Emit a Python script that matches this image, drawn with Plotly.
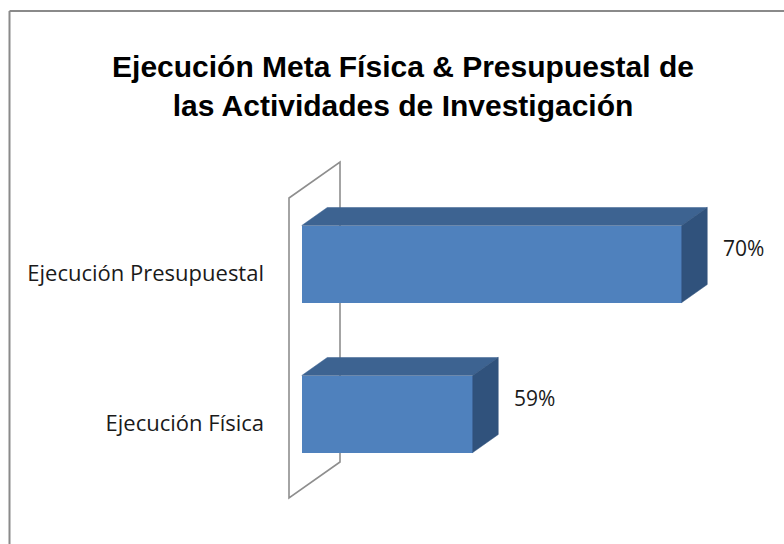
import plotly.graph_objects as go

# ---- data ----
categories = ["Ejecución Física", "Ejecución Presupuestal"]
values = [59, 70]
value_labels = ["59%", "70%"]
title_text = "Ejecución Meta Física & Presupuestal de<br>las Actividades de Investigación"

# ---- layout geometry (pixels) ----
W, H = 784, 544
PX_L, PX_R = 280, 775          # plot area x in pixels
PX_T, PX_B = 150, 505          # plot area y in pixels
AXIS_MIN = 50                  # value-axis minimum (%)
PX_PER_PCT = 19.0
PX_PER_CAT = 150.0
WALL_X = 289                   # pixel of AXIS_MIN at depth 0
CAT_BOTTOM_PX = 498            # pixel of category -0.5 at depth 0

x0 = AXIS_MIN - (WALL_X - PX_L) / PX_PER_PCT
x1 = AXIS_MIN + (PX_R - WALL_X) / PX_PER_PCT
y0 = -0.5 - (PX_B - CAT_BOTTOM_PX) / PX_PER_CAT
y1 = -0.5 + (CAT_BOTTOM_PX - PX_T) / PX_PER_CAT

# depth vector (full wall depth) in data units
DX = 51 / PX_PER_PCT
DY = 36 / PX_PER_CAT
D_FRONT, D_BACK = 0.25, 0.75
HALF = 77 / 2 / PX_PER_CAT

FRONT = "#4F81BD"
TOP = "#3D6391"
SIDE = "#30527C"
WALL_LINE = "#8E8E8E"

fig = go.Figure()
n = len(categories)

# side wall (drawn beneath all traces)
wx = [AXIS_MIN, AXIS_MIN, AXIS_MIN + DX, AXIS_MIN + DX]
wy = [-0.5, n - 0.5, n - 0.5 + DY, -0.5 + DY]
wall_path = "M " + " L ".join(f"{a},{b}" for a, b in zip(wx, wy)) + " Z"
fig.add_shape(type="path", path=wall_path, xref="x", yref="y", layer="below",
              fillcolor="white", line=dict(color=WALL_LINE, width=1.6))

fx = D_FRONT * DX
fy = D_FRONT * DY
bx = (D_BACK - D_FRONT) * DX
by = (D_BACK - D_FRONT) * DY

# front faces
fig.add_trace(go.Bar(
    y=[i + fy for i in range(n)],
    x=[v - AXIS_MIN for v in values],
    base=[AXIS_MIN + fx] * n,
    orientation="h", width=2 * HALF,
    marker=dict(color=FRONT, line=dict(width=0)),
    showlegend=False, hoverinfo="skip"))

for i, v in enumerate(values):
    yt = i + fy + HALF
    yb = i + fy - HALF
    xl = AXIS_MIN + fx
    xr = v + fx
    # top face
    fig.add_trace(go.Scatter(
        x=[xl, xr, xr + bx, xl + bx, xl],
        y=[yt, yt, yt + by, yt + by, yt],
        mode="lines", fill="toself", fillcolor=TOP,
        line=dict(color=TOP, width=0.5), hoverinfo="skip", showlegend=False))
    # side face
    fig.add_trace(go.Scatter(
        x=[xr, xr + bx, xr + bx, xr, xr],
        y=[yt, yt + by, yb + by, yb, yt],
        mode="lines", fill="toself", fillcolor=SIDE,
        line=dict(color=SIDE, width=0.5), hoverinfo="skip", showlegend=False))

# value labels
LBL_DX = 2.75
LBL_DY = 0.17
for i, (v, t) in enumerate(zip(values, value_labels)):
    fig.add_annotation(x=v + LBL_DX, y=i + LBL_DY, text=t, showarrow=False,
                       xanchor="left", yanchor="middle",
                       font=dict(family="Open Sans", size=21, color="#1a1a1a"))

# outer border (top and left edges visible)
bl = (9.5 - PX_L) / (PX_R - PX_L)
bt = (PX_B - 11) / (PX_B - PX_T)
fig.add_shape(type="line", xref="paper", yref="paper", x0=bl, x1=bl, y0=-0.5, y1=bt,
              line=dict(color="#8A8A8A", width=2))
fig.add_shape(type="line", xref="paper", yref="paper", x0=bl, x1=2, y0=bt, y1=bt,
              line=dict(color="#8A8A8A", width=2))

fig.update_layout(
    width=W, height=H,
    margin=dict(l=PX_L, r=W - PX_R, t=PX_T, b=H - PX_B, autoexpand=False),
    paper_bgcolor="white", plot_bgcolor="white",
    title=dict(text=title_text, x=403 / W, xref="container", xanchor="center",
               y=1 - 77 / H, yref="container", yanchor="top",
               font=dict(family="Liberation Sans", size=30, color="black", weight="bold")),
    xaxis=dict(range=[x0, x1], visible=False, fixedrange=True),
    yaxis=dict(range=[y0, y1], tickvals=list(range(n)), ticktext=categories,
               showgrid=False, zeroline=False, showline=False, ticks="",
               ticklabelstandoff=15,
               tickfont=dict(family="Open Sans", size=22, color="#1a1a1a"),
               fixedrange=True),
    bargap=0,
)

fig.write_html("out.html", config={"displayModeBar": False},
               post_script="document.body.style.margin='0';")
